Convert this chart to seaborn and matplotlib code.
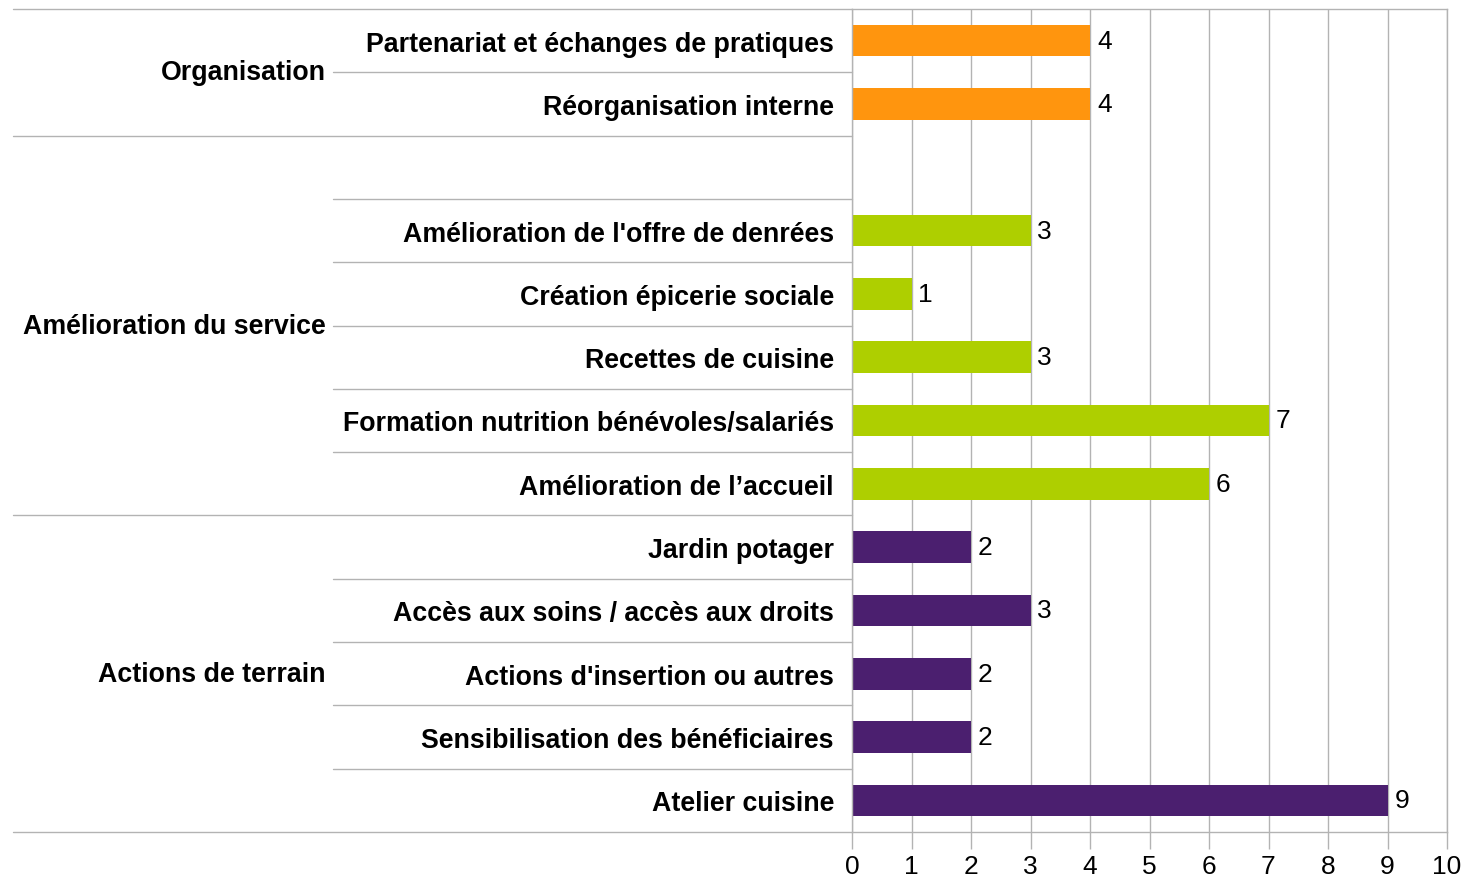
import numpy as np
import pandas as pd
import seaborn as sns
import matplotlib
matplotlib.use("Agg")
from matplotlib import pyplot as plt
from matplotlib import transforms

# chart values, top row first ("" is the empty spacer row)
labels = ["Partenariat et échanges de pratiques", "Réorganisation interne",
          "",
          "Amélioration de l'offre de denrées", "Création épicerie sociale",
          "Recettes de cuisine", "Formation nutrition bénévoles/salariés",
          "Amélioration de l’accueil",
          "Jardin potager", "Accès aux soins / accès aux droits",
          "Actions d'insertion ou autres", "Sensibilisation des bénéficiaires",
          "Atelier cuisine"]
values = [4, 4, np.nan, 3, 1, 3, 7, 6, 2, 3, 2, 2, 9]
groups = ["Organisation", "Organisation",
          "Amélioration du service", "Amélioration du service",
          "Amélioration du service", "Amélioration du service",
          "Amélioration du service", "Amélioration du service",
          "Actions de terrain", "Actions de terrain", "Actions de terrain",
          "Actions de terrain", "Actions de terrain"]
group_names = ["Organisation", "Amélioration du service", "Actions de terrain"]
colors = ["#ff950e", "#aecf00", "#4b1f6f"]
xticks = list(range(0, 11))

sns.set_style("white")
plt.rcParams['font.family'] = ['Liberation Sans', 'DejaVu Sans']
plt.rcParams['text.color'] = 'black'
plt.rcParams['xtick.color'] = 'black'
plt.rcParams['ytick.color'] = 'black'

df = pd.DataFrame({"label": labels, "value": values, "group": groups})

fig = plt.figure(figsize=(14.67, 8.78), dpi=100)
ax = fig.add_axes([852 / 1467, 45 / 878, 595 / 1467, 823 / 878])

sns.barplot(data=df, x="value", y="label", hue="group", order=labels,
            hue_order=group_names, palette=colors, dodge=False, saturation=1,
            width=0.5, linewidth=0, legend=False, ax=ax)

# value labels at the end of each bar
for cont in ax.containers:
    vals = [b.get_width() for b in cont]
    ax.bar_label(cont, labels=["" if np.isnan(v) else f"{v:g}" for v in vals],
                 padding=5, fontsize=19, color="black")

ax.set_xlim(0, 10)
ax.set_ylim(len(labels) - 0.5, -0.5)
ax.set_xticks(xticks)
ax.set_xlabel("")
ax.set_ylabel("")
ax.xaxis.grid(True, color="#b3b3b3", linewidth=1)
ax.set_axisbelow(True)
ax.tick_params(axis="x", length=12, width=1, color="#b3b3b3",
               labelcolor="black", labelsize=19, pad=4, bottom=True)
ax.tick_params(axis="y", length=0, pad=13, labelcolor="black")
for t in ax.get_yticklabels():
    t.set_fontweight("bold")
    t.set_fontsize(19.3)
for s in ax.spines.values():
    s.set_color("#b3b3b3")
    s.set_linewidth(1)

# row separators and group labels on the left
trans = transforms.blended_transform_factory(ax.transAxes, ax.transData)
inner_x, outer_x = (333 - 852) / 595, (13 - 852) / 595
bounds = [-0.5]
for i in range(1, len(groups)):
    if groups[i] != groups[i - 1]:
        bounds.append(i - 0.5)
bounds.append(len(groups) - 0.5)
for i in range(len(labels) + 1):
    y = i - 0.5
    x0 = outer_x if y in bounds else inner_x
    ax.plot([x0, 0], [y, y], color="#b3b3b3", linewidth=1,
            transform=trans, clip_on=False)
for g, lo, hi in zip(group_names, bounds[:-1], bounds[1:]):
    ax.text(inner_x - 0.012, (lo + hi) / 2, g, transform=trans,
            ha="right", va="center", fontsize=19.3, fontweight="bold")

fig.savefig("out.png", dpi=100)
